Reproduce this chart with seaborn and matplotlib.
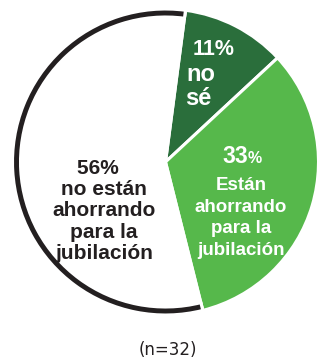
import matplotlib
matplotlib.use("Agg")
import matplotlib.pyplot as plt
import seaborn as sns

# Share of respondents by retirement-savings status
categories = ["No sé", "Están ahorrando para la jubilación", "No están ahorrando para la jubilación"]
shares = [11, 33, 56]
pct_labels = ["11%", "33", "56%"]
sample_note = "(n=32)"

sns.set_theme(style="white")
plt.rcParams["font.family"] = ["Liberation Sans", "DejaVu Sans"]

dark_green = "#2a6e3b"
light_green = "#56b84b"
ink = "#231f20"
palette = sns.color_palette([dark_green, light_green, "#ffffff"])

W, H = 320, 358
fig = plt.figure(figsize=(W / 100, H / 100), dpi=100)
ax = fig.add_axes([0, 0, 1, 1])

cx, cy, r = 165.5, H - 162, 153
start = 82.5

# filled slices
ax.pie(shares, colors=palette, startangle=start, counterclock=False,
       center=(cx, cy), radius=r,
       wedgeprops=dict(edgecolor="white", linewidth=2.2))
# black rim around the "not saving" slice only
rim, _ = ax.pie(shares, colors=["none", "none", ink], startangle=start, counterclock=False,
                center=(cx, cy), radius=r,
                wedgeprops=dict(width=8, edgecolor="white", linewidth=2.2))
for w in rim[:2]:
    w.set_visible(False)

ax.set_xlim(0, W)
ax.set_ylim(0, H)
ax.set_aspect("equal")
ax.axis("off")

bold_white = dict(color="white", fontweight="bold", va="baseline")

# 11% slice
ax.text(193, H - 55, pct_labels[0], fontsize=15.5, ha="left", **bold_white)
ax.text(186, H - 81, "no", fontsize=17, ha="left", **bold_white)
ax.text(185, H - 105, "sé", fontsize=17, ha="left", **bold_white)

# 33% slice
ax.text(248, H - 163, pct_labels[1], fontsize=16.5, ha="right", **bold_white)
ax.text(248, H - 163, "%", fontsize=11.5, ha="left", **bold_white)
ax.text(241, H - 218, "Están\nahorrando\npara la\njubilación", color="white",
        fontsize=13.5, fontweight="bold", ha="center", va="center", linespacing=1.38)

# 56% slice
ax.text(104, H - 211, pct_labels[2] + "  \nno están\nahorrando\npara la\njubilación",
        color=ink, fontsize=15, fontweight="bold", ha="center", va="center",
        linespacing=1.14)

ax.text(168, H - 350, sample_note, color=ink, fontsize=12, family="DejaVu Sans",
        ha="center", va="center")

fig.savefig("out.png", dpi=100, facecolor="white")
